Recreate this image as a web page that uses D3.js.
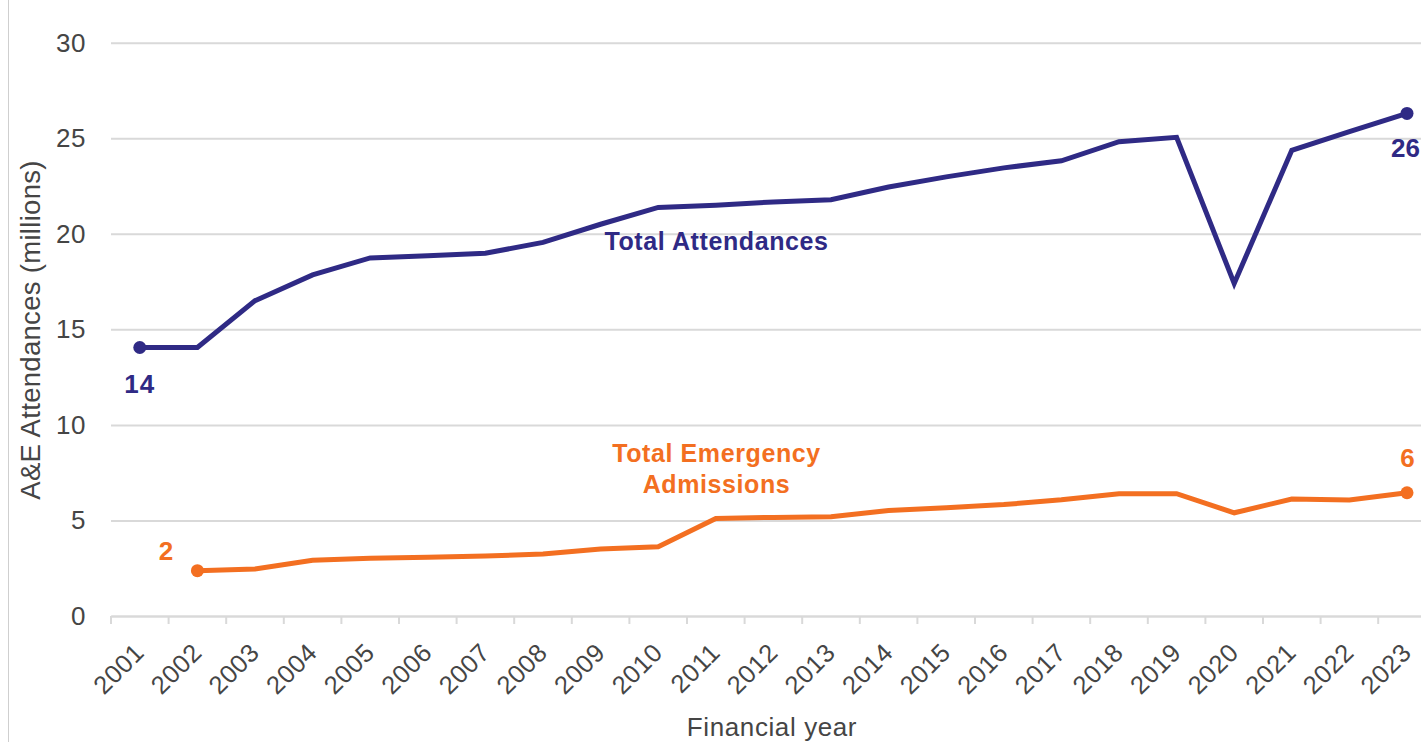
<!DOCTYPE html>
<html>
<head>
<meta charset="utf-8">
<script src="https://cdn.jsdelivr.net/npm/d3@7"></script>
<style>
  html, body { margin: 0; padding: 0; background: #fff; }
  svg { display: block; font-family: "Liberation Sans", Arial, sans-serif; }
</style>
</head>
<body>
<svg id="chart" width="1421" height="742"></svg>
<script>
const years = ["2001","2002","2003","2004","2005","2006","2007","2008","2009","2010","2011","2012","2013","2014","2015","2016","2017","2018","2019","2020","2021","2022","2023"];
const attendances = [14.05,14.05,16.5,17.85,18.74,18.85,18.98,19.55,20.5,21.38,21.5,21.67,21.78,22.45,22.98,23.45,23.82,24.82,25.05,17.4,24.37,25.35,26.3];
const admissions = [null,2.37,2.46,2.92,3.02,3.08,3.14,3.24,3.5,3.62,5.1,5.16,5.2,5.52,5.67,5.83,6.08,6.4,6.4,5.4,6.12,6.07,6.45];
const yTicks = [0,5,10,15,20,25,30];
const seriesNames = ["Total Attendances", ["Total Emergency", "Admissions"]];
const endLabels = { attStart: "14", attEnd: "26", admStart: "2", admEnd: "6" };

const navy = "#2f2a85";
const orange = "#f36f21";
const grid = "#d9d9d9";
const textGray = "#454545";

const svg = d3.select("#chart");

const x = d3.scaleBand().domain(years).range([111, 1435.8]).padding(0);
const y = d3.scaleLinear().domain([0, 30]).range([616, 42.7]);
const cx = d => x(d) + x.bandwidth() / 2;

// frame line on the left
svg.append("line").attr("x1", 8.5).attr("x2", 8.5).attr("y1", 0).attr("y2", 742)
  .attr("stroke", "#cfcfcf").attr("stroke-width", 1);

// gridlines + y labels
const yAxis = d3.axisLeft(y).tickValues(yTicks).tickSize(-(1435.8 - 111)).tickPadding(25);
const gy = svg.append("g").attr("transform", "translate(111,0)").call(yAxis);
gy.select(".domain").remove();
gy.selectAll(".tick line").attr("stroke", grid).attr("stroke-width", 2);
gy.selectAll(".tick text").attr("fill", textGray).attr("font-size", 26)
  .attr("font-family", "Liberation Sans, Arial, sans-serif").attr("x", -25)
  .attr("letter-spacing", 0.5);

// x axis
const xAxis = d3.axisBottom(x).tickSize(0).tickPadding(0);
const gx = svg.append("g").attr("transform", "translate(0,616)").call(xAxis);
gx.select(".domain").attr("stroke", grid).attr("stroke-width", 2);
gx.selectAll(".tick text")
  .attr("fill", textGray).attr("font-size", 25.5)
  .attr("font-family", "Liberation Sans, Arial, sans-serif")
  .attr("letter-spacing", 0.6)
  .attr("text-anchor", "end")
  .attr("transform", "translate(6,38) rotate(-45)")
  .attr("dy", "0");
// tick marks at band boundaries
svg.append("g").selectAll("line").data(years).join("line")
  .attr("x1", d => x(d)).attr("x2", d => x(d))
  .attr("y1", 616).attr("y2", 624)
  .attr("stroke", grid).attr("stroke-width", 2);

// axis titles
svg.append("text").attr("x", 772).attr("y", 736).attr("text-anchor", "middle")
  .attr("fill", textGray).attr("font-size", 26).attr("letter-spacing", 0.6).text("Financial year");
svg.append("text").attr("transform", "translate(40,330) rotate(-90)").attr("text-anchor", "middle")
  .attr("fill", textGray).attr("font-size", 27.5).attr("letter-spacing", 0.3).text("A&E Attendances (millions)");

// lines
const line = d3.line().defined(d => d.v != null).x(d => cx(d.year)).y(d => y(d.v));
const attData = years.map((yr, i) => ({ year: yr, v: attendances[i] }));
const admData = years.map((yr, i) => ({ year: yr, v: admissions[i] }));

svg.append("path").datum(attData).attr("d", line).attr("fill", "none")
  .attr("stroke", navy).attr("stroke-width", 5).attr("stroke-linejoin", "miter");
svg.append("path").datum(admData.filter(d => d.v != null)).attr("d", line).attr("fill", "none")
  .attr("stroke", orange).attr("stroke-width", 5).attr("stroke-linejoin", "miter");

// end dots
const attEnds = [attData[0], attData[attData.length - 1]];
const admValid = admData.filter(d => d.v != null);
const admEnds = [admValid[0], admValid[admValid.length - 1]];
svg.append("g").selectAll("circle").data(attEnds).join("circle")
  .attr("cx", d => cx(d.year)).attr("cy", d => y(d.v)).attr("r", 6.5).attr("fill", navy);
svg.append("g").selectAll("circle").data(admEnds).join("circle")
  .attr("cx", d => cx(d.year)).attr("cy", d => y(d.v)).attr("r", 6.5).attr("fill", orange);

// value labels
const lbl = (txt, xx, yy, col, anchor, ls) => svg.append("text").attr("x", xx).attr("y", yy)
  .attr("text-anchor", anchor || "middle").attr("fill", col).attr("font-size", 26)
  .attr("letter-spacing", ls == null ? 1 : ls)
  .attr("font-weight", "bold").text(txt);
lbl(endLabels.attStart, cx(years[0]), y(attendances[0]) + 45, navy);
lbl(endLabels.attEnd, 1420, y(attendances[22]) + 44, navy, "end", 0);
lbl(endLabels.admStart, cx(years[1]) - 31, y(admissions[1]) - 11, orange);
lbl(endLabels.admEnd, cx(years[22]) + 1, y(admissions[22]) - 26, orange);

// series labels
svg.append("text").attr("x", 716.5).attr("y", 250).attr("text-anchor", "middle")
  .attr("fill", navy).attr("font-size", 25).attr("letter-spacing", 0.6)
  .attr("font-weight", "bold").text(seriesNames[0]);
const em = svg.append("text").attr("text-anchor", "middle")
  .attr("fill", orange).attr("font-size", 25).attr("letter-spacing", 0.6).attr("font-weight", "bold");
em.append("tspan").attr("x", 716.5).attr("y", 462).text(seriesNames[1][0]);
em.append("tspan").attr("x", 716.5).attr("y", 493).text(seriesNames[1][1]);
</script>
</body>
</html>
